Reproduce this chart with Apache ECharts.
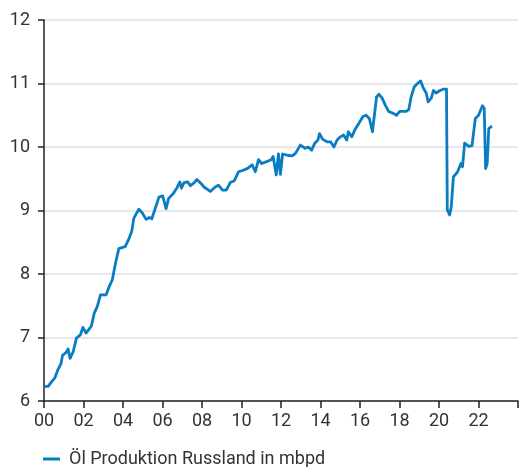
<!DOCTYPE html>
<html>
<head>
<meta charset="utf-8">
<script src="https://cdn.jsdelivr.net/npm/echarts@6/dist/echarts.min.js"></script>
<style>
  html, body { margin: 0; padding: 0; background: #fff; }
  #chart { width: 521px; height: 467px; }
</style>
</head>
<body>
<div id="chart"></div>
<script>
// Zeitachse (Dezimaljahre) und Förderung in mbpd
const years = [
  2000.05, 2000.21, 2000.38, 2000.54, 2000.70, 2000.86, 2000.94, 2001.11, 2001.22, 2001.32,
  2001.48, 2001.64, 2001.84, 2001.97, 2002.13, 2002.40, 2002.54, 2002.70, 2002.86, 2003.14,
  2003.30, 2003.46, 2003.62, 2003.79, 2004.11, 2004.28, 2004.44, 2004.55, 2004.80, 2004.98,
  2005.17, 2005.33, 2005.46, 2005.66, 2005.82, 2006.01, 2006.18, 2006.31, 2006.55, 2006.72,
  2006.88, 2006.96, 2007.09, 2007.28, 2007.41, 2007.61, 2007.74, 2007.94, 2008.10, 2008.42,
  2008.67, 2008.83, 2009.04, 2009.23, 2009.43, 2009.64, 2009.85, 2010.05, 2010.29, 2010.54,
  2010.70, 2010.86, 2011.02, 2011.27, 2011.51, 2011.60, 2011.76, 2011.87, 2011.97, 2012.08,
  2012.33, 2012.57, 2012.73, 2012.98, 2013.22, 2013.38, 2013.55, 2013.71, 2013.87, 2013.95,
  2014.11, 2014.36, 2014.52, 2014.68, 2014.84, 2015.01, 2015.17, 2015.33, 2015.41, 2015.58,
  2015.74, 2015.90, 2016.15, 2016.31, 2016.47, 2016.55, 2016.63, 2016.72, 2016.84, 2016.96,
  2017.12, 2017.28, 2017.45, 2017.69, 2017.85, 2018.01, 2018.34, 2018.47, 2018.59, 2018.75,
  2018.91, 2018.99, 2019.07, 2019.19, 2019.35, 2019.45, 2019.61, 2019.72, 2019.85, 2020.05,
  2020.21, 2020.38, 2020.42, 2020.54, 2020.62, 2020.73, 2020.94, 2021.11, 2021.19, 2021.30,
  2021.51, 2021.67, 2021.84, 2022.00, 2022.20, 2022.29, 2022.36, 2022.44, 2022.52, 2022.68
];
const production = [
  6.23, 6.23, 6.30, 6.36, 6.49, 6.59, 6.72, 6.76, 6.82, 6.67,
  6.78, 6.99, 7.04, 7.16, 7.07, 7.18, 7.38, 7.49, 7.67, 7.67,
  7.80, 7.91, 8.17, 8.40, 8.43, 8.54, 8.67, 8.88, 9.02, 8.96,
  8.86, 8.89, 8.87, 9.06, 9.21, 9.23, 9.03, 9.19, 9.27, 9.35,
  9.45, 9.35, 9.44, 9.45, 9.39, 9.44, 9.49, 9.43, 9.37, 9.30,
  9.37, 9.40, 9.32, 9.32, 9.44, 9.47, 9.61, 9.63, 9.66, 9.72,
  9.61, 9.80, 9.74, 9.77, 9.80, 9.85, 9.56, 9.89, 9.57, 9.89,
  9.87, 9.86, 9.90, 10.03, 9.98, 10.00, 9.95, 10.06, 10.11, 10.21,
  10.12, 10.08, 10.08, 10.00, 10.11, 10.16, 10.19, 10.11, 10.24, 10.16,
  10.27, 10.35, 10.48, 10.50, 10.45, 10.35, 10.24, 10.48, 10.79, 10.83,
  10.77, 10.66, 10.56, 10.53, 10.50, 10.56, 10.56, 10.59, 10.79, 10.95,
  11.00, 10.98, 11.04, 10.94, 10.85, 10.71, 10.77, 10.89, 10.85, 10.89,
  10.91, 10.91, 9.01, 8.93, 9.06, 9.53, 9.61, 9.74, 9.69, 10.06,
  10.01, 10.02, 10.45, 10.50, 10.65, 10.61, 9.66, 9.74, 10.29, 10.33
];
const yTicks = [6, 7, 8, 9, 10, 11, 12];

const textColor = "#333";
const axisColor = "#222";

var myChart = echarts.init(document.getElementById("chart"));
myChart.setOption({
  animation: false,
  textStyle: { fontFamily: "Roboto" },
  grid: { left: 44, right: -15, top: 20, bottom: 66 },
  legend: {
    left: 43,
    top: 450,
    padding: 0,
    icon: "rect",
    itemWidth: 17,
    itemHeight: 3,
    textStyle: { fontSize: 18, color: textColor, padding: [0, 0, 0, 4] },
    data: ["Öl Produktion Russland in mbpd"],
  },
  xAxis: {
    type: "value",
    min: 2000,
    max: 2024,
    interval: 2,
    axisLine: { lineStyle: { color: axisColor, width: 1.5 } },
    axisTick: { length: 7, lineStyle: { color: axisColor, width: 1.5 } },
    axisLabel: {
      fontSize: 18,
      color: textColor,
      margin: 11,
      formatter: (v) => (v < 2024 ? String(v).slice(2) : ""),
    },
    splitLine: { show: false },
  },
  yAxis: {
    type: "value",
    min: yTicks[0],
    max: yTicks[yTicks.length - 1],
    interval: 1,
    axisLine: { show: true, lineStyle: { color: axisColor, width: 1.5 } },
    axisTick: { show: true, length: 6, lineStyle: { color: axisColor, width: 1.5 } },
    axisLabel: { fontSize: 18, color: textColor, margin: 14 },
    splitLine: { lineStyle: { color: "#dde1e7", width: 1.5 } },
  },
  series: [
    {
      name: "Öl Produktion Russland in mbpd",
      type: "line",
      showSymbol: false,
      symbol: "none",
      color: "#0a7cc1",
      lineStyle: { width: 2.8, color: "#0a7cc1", join: "round" },
      data: years.map((y, i) => [y, production[i]]),
    },
  ],
});
</script>
</body>
</html>
